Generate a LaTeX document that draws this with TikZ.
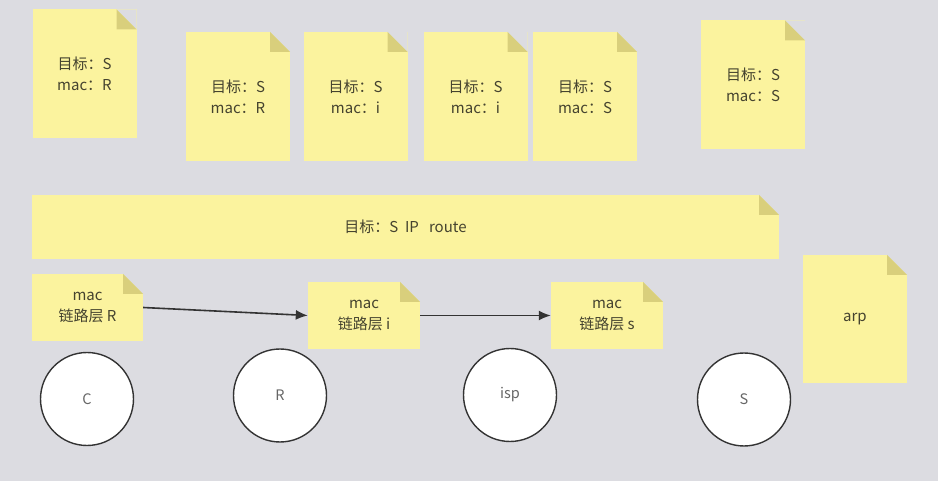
\documentclass[tikz,border=0pt]{standalone}
\usepackage{fontspec}
\setmainfont{Noto Sans CJK SC}
\usetikzlibrary{arrows.meta}
\definecolor{bgc}{HTML}{DCDCE1}
\definecolor{notey}{HTML}{FBF39E}
\definecolor{foldc}{HTML}{D9CF7C}
\definecolor{inkc}{HTML}{45432F}
\def\fold{20pt}

\begin{document}
\begin{tikzpicture}[x=1pt,y=-1pt]
    \tikzstyle{note}=[fill=notey, inner sep=0pt, align=center, text=inkc,
        font=\fontsize{15}{21}\selectfont,
        path picture={
            \fill[bgc] (path picture bounding box.north east) -- ++(-\fold,0pt) -- ++(\fold,-\fold) -- cycle;
            \fill[foldc] (path picture bounding box.north east) ++(-\fold,0pt) -- ++(0pt,-\fold) -- ++(\fold,0pt) -- cycle;}]
    \tikzstyle{page}=[note, minimum width=104pt, minimum height=129pt]
    \tikzstyle{link}=[note, minimum width=112pt, minimum height=67pt]
    \tikzstyle{host}=[circle, fill=white, draw=black!80, line width=1.4pt, minimum size=93pt,
        inner sep=0pt, text=black!60, font=\fontsize{14.5}{16}\selectfont]
    \tikzstyle{hop}=[-{Latex[length=12pt,width=10pt]}, draw=black!80, line width=1.6pt]

    % Background
    \fill[bgc] (0,0) rectangle (938,481);
    \useasboundingbox (0,0) rectangle (938,481);

    % Draw the packet notes at the top
    \foreach \name / \x / \y / \mac in {1/84.5/74/R, 2/238/96.5/R, 3/355.5/96.5/i, 4/475.5/96.5/i, 5/585/96.5/S, 6/753/85/S}
        \node[page] (T-\name) at (\x,\y) {目标：S\\mac：\mac};

    % The IP layer bar
    \node[note, minimum width=747pt, minimum height=64pt] (ip) at (405.5,227) {目标：S\ \ IP\ \ \ route};

    % Link layer notes
    \node[link, minimum width=111pt] (L-R) at (87.5,307.5) {mac\\链路层 R};
    \node[link] (L-i) at (364,315.5) {mac\\链路层 i};
    \node[link] (L-s) at (607,315.5) {mac\\链路层 s};
    \node[page, minimum height=128pt] (arp) at (855,319) {arp};

    % Draw the hosts
    \foreach \name / \x / \y in {C/87/399, R/280/395.5, isp/510/395, S/744/399.5}
        \node[host] (H-\name) at (\x,\y) {\name};

    % Connect the link layer notes
    \draw[hop] (L-R.east) -- (L-i.west);
    \draw[hop] (L-i.east) -- (L-s.west);
\end{tikzpicture}
\end{document}
